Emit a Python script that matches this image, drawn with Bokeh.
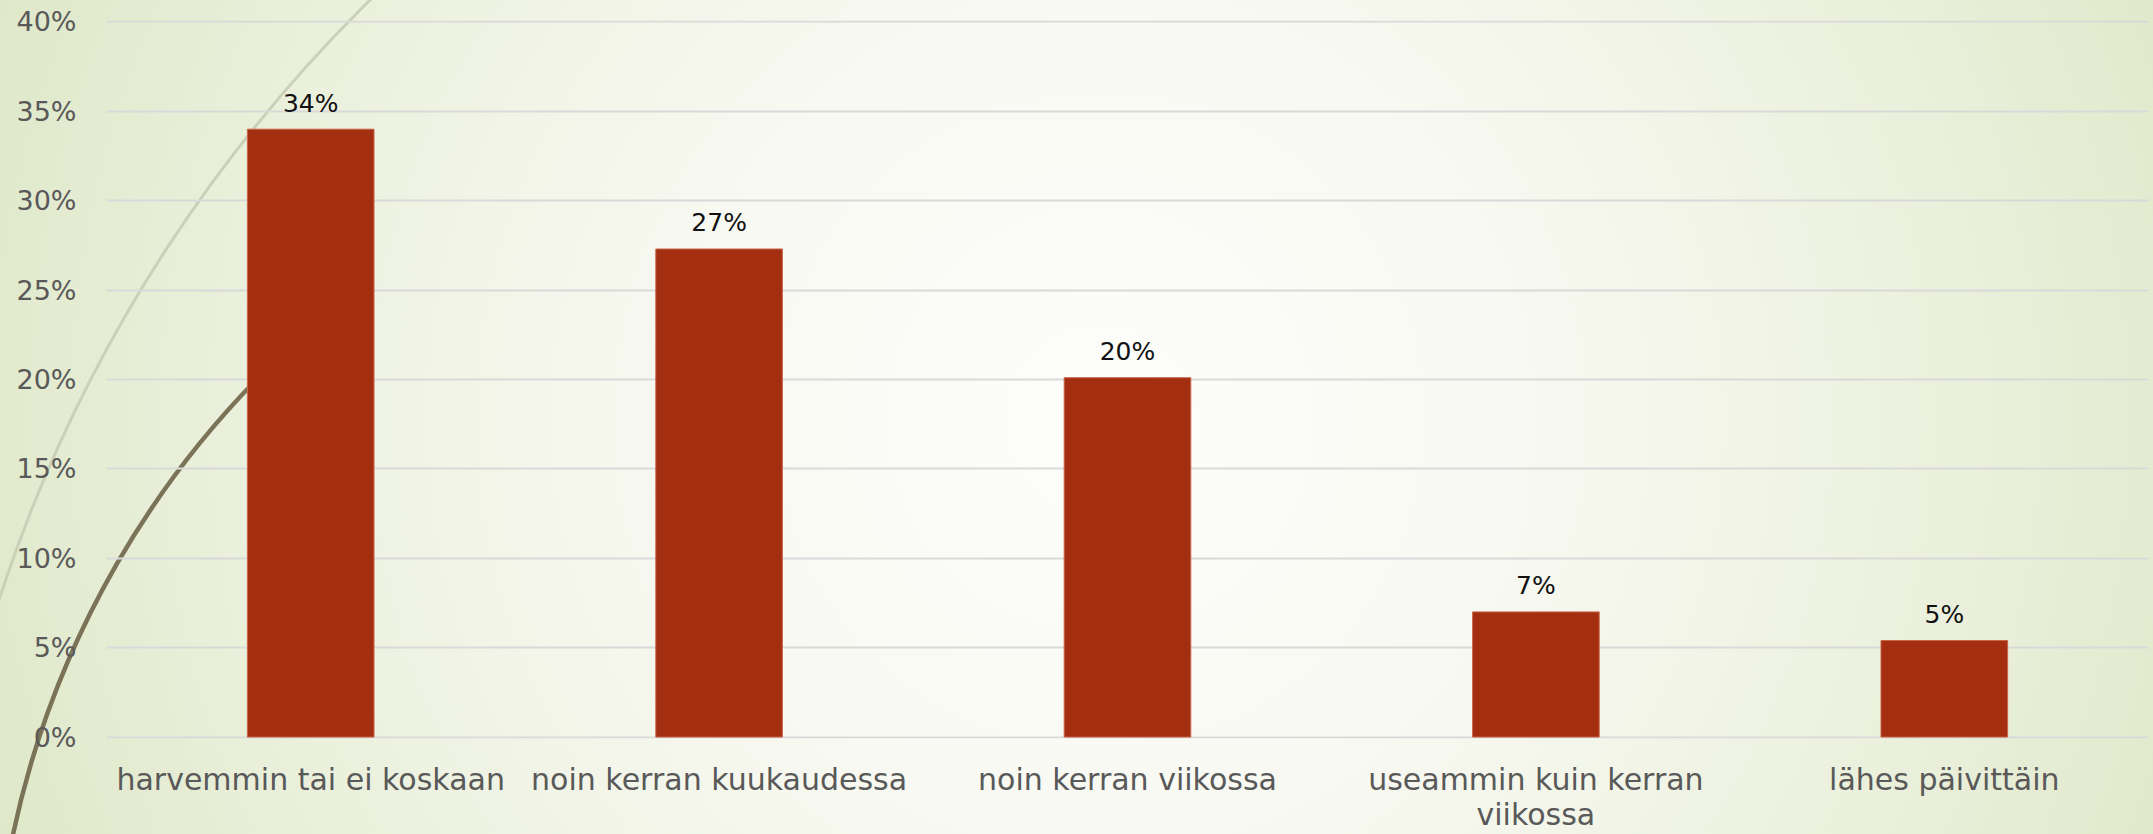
import urllib.parse
from bokeh.plotting import figure
from bokeh.models import FactorRange, Range1d, PrintfTickFormatter, FixedTicker, ColumnDataSource, InlineStyleSheet
from bokeh.embed import file_html
from bokeh.resources import INLINE
from bokeh.core.properties import value

# ---- data ----
categories = [
    "harvemmin tai ei koskaan",
    "noin kerran kuukaudessa",
    "noin kerran viikossa",
    "useammin kuin kerran\nviikossa",
    "lähes päivittäin",
]
shares = [34.0, 27.3, 20.1, 7.0, 5.4]
value_labels = ["34%", "27%", "20%", "7%", "5%"]
y_ticks = [0, 5, 10, 15, 20, 25, 30, 35, 40]

source = ColumnDataSource(dict(cat=categories, share=shares, lab=value_labels))

FONT = "DejaVu Sans"

p = figure(
    x_range=FactorRange(*categories, range_padding=0),
    y_range=Range1d(-0.08, 40.08),
    width=2153, height=834,
    output_backend="svg", toolbar_location=None,
    min_border_left=106, min_border_right=5, min_border_top=20, min_border_bottom=94,
)
p.border_fill_color = None
p.background_fill_color = None
p.outline_line_color = None

p.vbar(x="cat", top="share", width=0.31, source=source,
       fill_color="#a32e10", line_color="#c8654a", line_width=1)

p.text(x="cat", y="share", text="lab", source=source,
       text_align="center", text_baseline="alphabetic", y_offset=-26,
       text_font=value(FONT), text_font_size="25px", text_color="#111111")

# axes
p.yaxis.ticker = FixedTicker(ticks=y_ticks)
p.yaxis.formatter = PrintfTickFormatter(format="%d%%")
for ax in (p.xaxis[0], p.yaxis[0]):
    ax.axis_line_color = None
    ax.major_tick_line_color = None
    ax.minor_tick_line_color = None
    ax.major_label_text_font = FONT
    ax.major_label_text_color = "#595959"
p.yaxis.major_label_text_font_size = "27px"
p.yaxis.major_label_standoff = 24
p.xaxis.major_label_text_font_size = "30px"
p.xaxis.major_label_text_line_height = 1.0
p.xaxis.major_label_standoff = 17

p.xgrid.grid_line_color = None
p.ygrid.grid_line_color = "#d9d9d9"
p.ygrid.grid_line_width = 2

# decorative slide background (gradient + arcs), in page pixel coordinates
svg = (
    '<svg xmlns="http://www.w3.org/2000/svg" width="2153" height="834" viewBox="0 0 2153 834">'
    '<defs><radialGradient id="g" gradientUnits="userSpaceOnUse" cx="1100" cy="420" r="1180">'
    '<stop offset="0" stop-color="#fdfdfb"/><stop offset="0.35" stop-color="#f8f9f2"/>'
    '<stop offset="0.7" stop-color="#ecf1de"/><stop offset="1" stop-color="#dfe8c9"/>'
    '</radialGradient></defs>'
    '<rect x="0" y="0" width="2153" height="834" fill="url(#g)"/>'
    '<circle cx="1407" cy="1056" r="1480" fill="none" stroke="#cbd1b8" stroke-width="3"/>'
    '<path d="M 12.7 836 A 925 925 0 0 1 300 338" fill="none" stroke="#7b7357" stroke-width="4.5"/>'
    '</svg>'
)
css = (
    ':host { background: url("data:image/svg+xml,' + urllib.parse.quote(svg) + '") no-repeat; '
    'background-size: 100% 100%; }'
)
p.stylesheets = [InlineStyleSheet(css=css)]

open("out.html", "w").write(file_html(p, INLINE))
